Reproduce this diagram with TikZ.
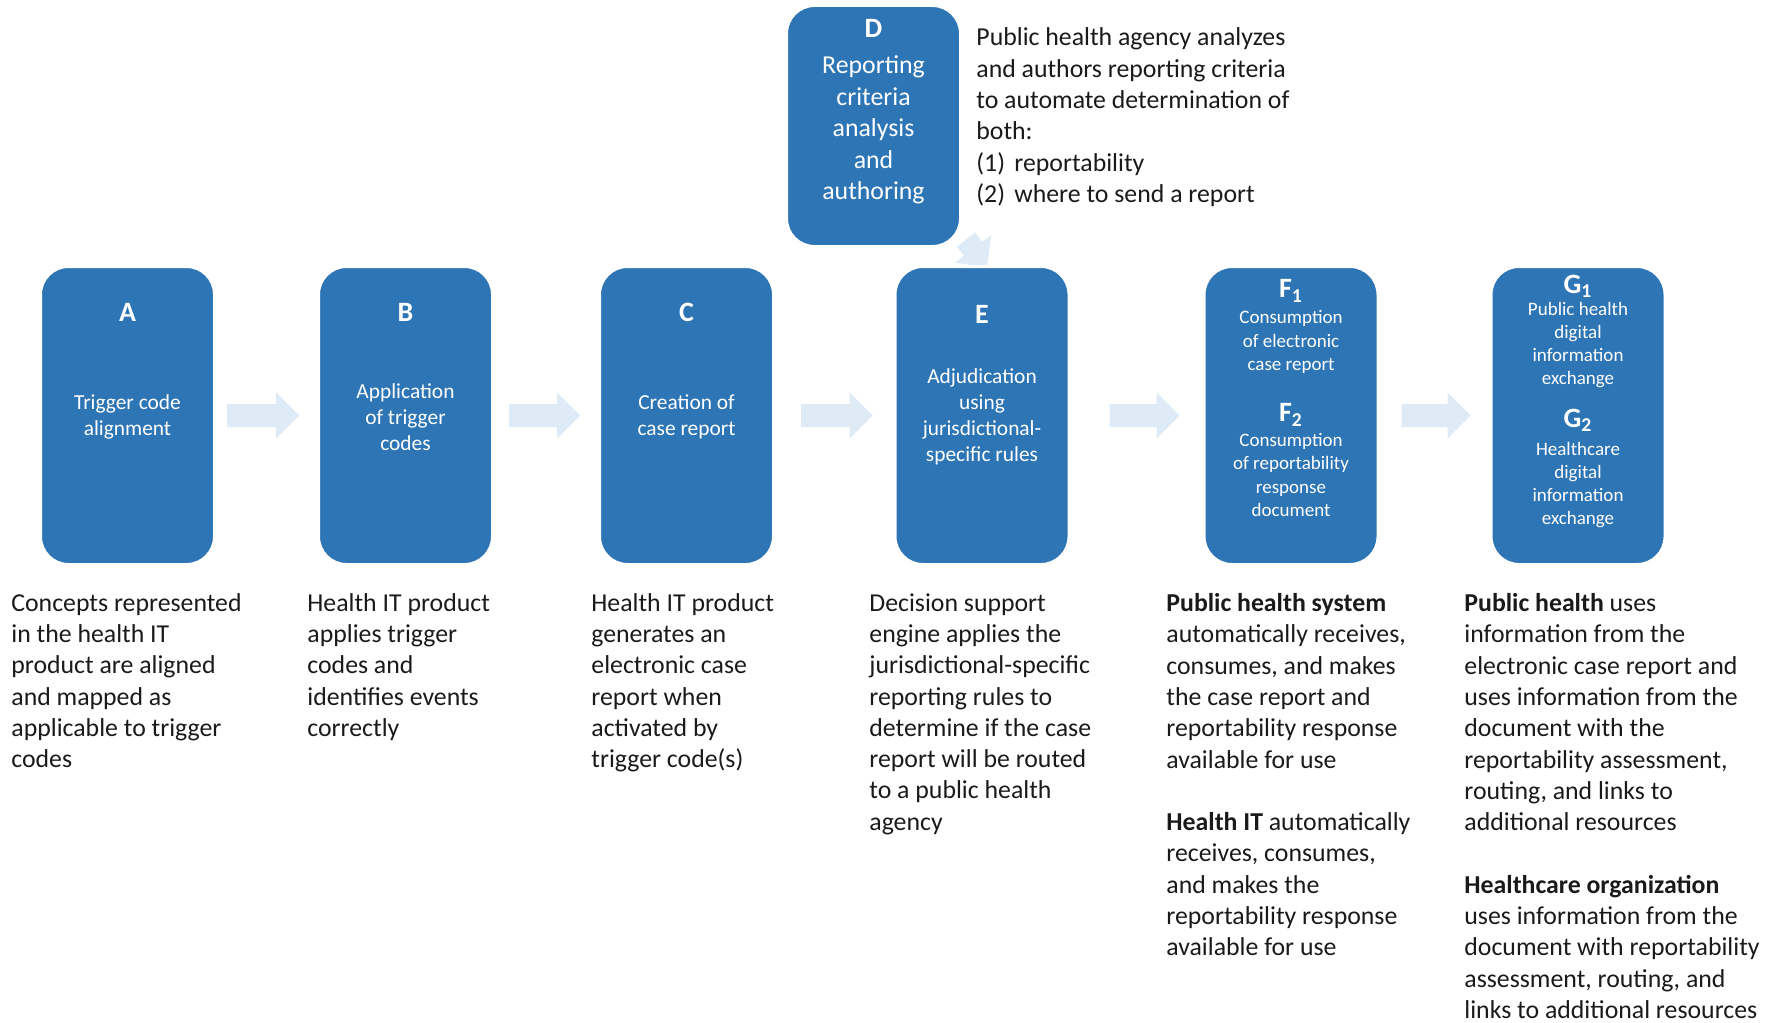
\documentclass[tikz,border=0pt]{standalone}
\usepackage{fontspec}
\setmainfont{Carlito}
\usetikzlibrary{calc,backgrounds}
\definecolor{ecrblue}{HTML}{2E75B6}
\definecolor{ecrflow}{HTML}{DEEBF7}
\definecolor{ecrink}{HTML}{1A1A1A}
\tikzset{
  % the rounded stage boxes
  ecr box/.style={
    draw=white, line width=1.5pt, fill=ecrblue, rounded corners=14pt,
    minimum width=87pt, minimum height=149pt, inner sep=0pt,
  },
  % stage letter at the top of a box
  ecr letter/.style={
    text=white, inner sep=0pt, font=\fontsize{14}{16}\selectfont\bfseries,
  },
  % what the stage does, inside its box
  ecr boxtext/.style={
    text=white, inner sep=0pt, align=center,
    font=\fontsize{10.7}{13}\selectfont,
  },
  ecr boxsmall/.style={
    ecr boxtext, font=\fontsize{9.5}{11.65}\selectfont,
  },
  % the running commentary under the boxes
  ecr note/.style={
    text=ecrink, inner sep=0pt, anchor=north west, align=left,
    font=\fontsize{12.9}{15.65}\selectfont,
  },
  % pale block arrows from stage to stage
  flow/.style={
    fill=ecrflow, draw=none,
    to path={let \p1=(\tikztostart), \p2=(\tikztotarget),
      \n1={atan2(\y2-\y1,\x2-\x1)}, \n2={veclen(\x2-\x1,\y2-\y1)} in
      (\p1) -- ++({\n1+90}:5.75pt) -- ++(\n1:{\n2-11.5pt})
      -- ++({\n1+90}:5.75pt) -- (\p2) -- ++({\n1-135}:16.263pt)
      -- ++({\n1+90}:5.75pt) -- ++({\n1+180}:{\n2-11.5pt}) -- cycle},
  },
}

\begin{document}
\begin{tikzpicture}[x=0.5pt,y=-0.5pt]
  \useasboundingbox (0,0) rectangle (1781,1022);

  % ---- the stages ----------------------------------------------------------
  \node[ecr box] (A) at (127.5,415.5) {};
  \node[ecr box] (B) at (405.5,415.5) {};
  \node[ecr box] (C) at (686.5,415.5) {};
  \node[ecr box] (E) at (982,415.5) {};
  \node[ecr box] (F) at (1291,415.5) {};
  \node[ecr box] (G) at (1578,415.5) {};
  \node[ecr box,minimum height=120.5pt] (D) at (873.5,126) {};

  \node[ecr letter] (A-id) at ($(A.north)+(0,47)$) {A};
  \node[ecr letter] (B-id) at ($(B.north)+(0,47)$) {B};
  \node[ecr letter] (C-id) at ($(C.north)+(0,47)$) {C};
  \node[ecr letter] (E-id) at ($(E.north)+(0,49)$) {E};
  \node[ecr letter] (D-id) at ($(D.north)+(0,24)$) {D};

  \node[ecr boxtext] (A-text) at ($(A)+(0,1.5)$) {Trigger code\\alignment};
  \node[ecr boxtext] (B-text) at ($(B)+(0,1.5)$) {Application\\of trigger\\codes};
  \node[ecr boxtext] (C-text) at ($(C)+(0,1.5)$) {Creation of\\case report};
  \node[ecr boxtext] (E-text) at ($(E)+(0,1.5)$)
    {Adjudication\\using\\jurisdictional-\\specific rules};
  \node[ecr boxtext,font=\fontsize{12.9}{15.75}\selectfont] (D-text)
    at ($(D.north)+(0,126)$) {Reporting\\criteria\\analysis\\and\\authoring};

  % F and G carry two parts each
  \node[ecr letter] (F1-id) at ($(F.north)+(0,26)$) {F\textsubscript{1}};
  \node[ecr boxsmall] (F1-text) at ($(F.north)+(0,77)$)
    {Consumption\\of electronic\\case report};
  \node[ecr letter] (F2-id) at ($(F.north)+(0,150)$) {F\textsubscript{2}};
  \node[ecr boxsmall] (F2-text) at ($(F.north)+(0,210)$)
    {Consumption\\of reportability\\response\\document};
  \node[ecr letter] (G1-id) at ($(G.north)+(0,21)$) {G\textsubscript{1}};
  \node[ecr boxsmall] (G1-text) at ($(G.north)+(0,80)$)
    {Public health\\digital\\information\\exchange};
  \node[ecr letter] (G2-id) at ($(G.north)+(0,155)$) {G\textsubscript{2}};
  \node[ecr boxsmall] (G2-text) at ($(G.north)+(0,220)$)
    {Healthcare\\digital\\information\\exchange};

  % ---- arrows between stages ----------------------------------------------
  \begin{pgfonlayer}{background}
    \path[flow] ($(A.east)+(11,0)$) to ($(B.west)+(-18,0)$);
    \path[flow] ($(B.east)+(15,0)$) to ($(C.west)+(-18,0)$);
    \path[flow] ($(C.east)+(26,0)$) to ($(E.west)+(-21,0)$);
    \path[flow] ($(E.east)+(39,0)$) to ($(F.west)+(-23,0)$);
    \path[flow] ($(F.east)+(22,0)$) to ($(G.west)+(-19,0)$);
    \path[flow] ($(D.south east)+(4,-8.5)$) to ($(E.north)+(5,2)$);
  \end{pgfonlayer}

  % ---- commentary ----------------------------------------------------------
  \node[ecr note] (D-note) at (976,27.5)
    {Public health agency analyzes\\and authors reporting criteria\\
     to automate determination of\\both:\\
     \makebox[19pt][l]{(1)}reportability\\
     \makebox[19pt][l]{(2)}where to send a report};

  \node[ecr note] (A-note) at (11,593)
    {Concepts represented\\in the health IT\\product are aligned\\
     and mapped as\\applicable to trigger\\codes};
  \node[ecr note] (B-note) at (307,593)
    {Health IT product\\applies trigger\\codes and\\identifies events\\correctly};
  \node[ecr note] (C-note) at (591,593)
    {Health IT product\\generates an\\electronic case\\report when\\
     activated by\\trigger code(s)};
  \node[ecr note] (E-note) at (869,593)
    {Decision support\\engine applies the\\jurisdictional-specific\\
     reporting rules to\\determine if the case\\report will be routed\\
     to a public health\\agency};
  \node[ecr note] (F-note) at (1166,593)
    {\textbf{Public health system}\\automatically receives,\\
     consumes, and makes\\the case report and\\reportability response\\
     available for use\\[15.65pt]
     \textbf{Health IT} automatically\\receives, consumes,\\and makes the\\
     reportability response\\available for use};
  \node[ecr note] (G-note) at (1464,593)
    {\textbf{Public health} uses\\information from the\\
     electronic case report and\\uses information from the\\
     document with the\\reportability assessment,\\routing, and links to\\
     additional resources\\[15.65pt]
     \textbf{Healthcare organization}\\uses information from the\\
     document with reportability\\assessment, routing, and\\
     links to additional resources};

\end{tikzpicture}
\end{document}
